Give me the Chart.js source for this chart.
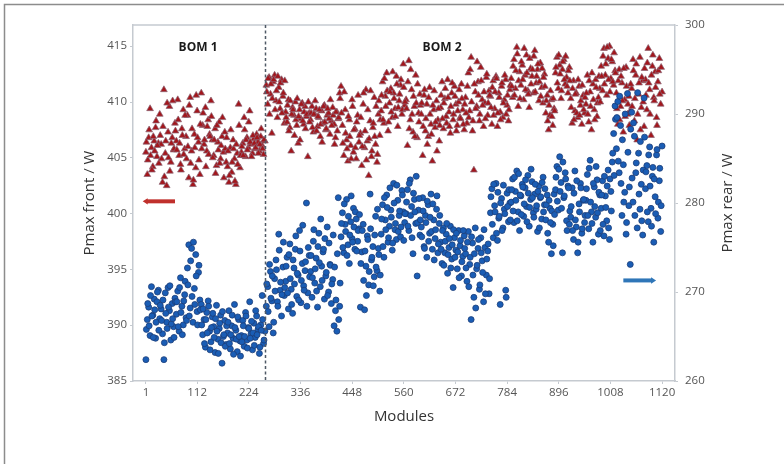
<!DOCTYPE html>
<html><head><meta charset="utf-8">
<script src="https://cdn.jsdelivr.net/npm/chart.js@4.4.1/dist/chart.umd.min.js"></script>
<style>html,body{margin:0;padding:0;background:#fff;} canvas{display:block;}</style>
</head><body>
<canvas id="c" width="784" height="464"></canvas>
<script>
// ---- data ----
const moduleStep = 3;          // each array holds every 3rd module
const bom1Start = 1;           // main arrays: modules 1,4,7,...
const bom1ExtraStart = 2;      // extra arrays: modules 2,5,8,...
const bom2Start = 262;
const bom2ExtraStart = 263;
const bomBoundary = 259.5;
const xTickLabels = [1, 112, 224, 336, 448, 560, 672, 784, 896, 1008, 1120];
const frontTicks = [385, 390, 395, 400, 405, 410, 415];
const rearTicks = [260, 270, 280, 290, 300];

const frontBom1 = [
405.5,403.5,406.8,409.4,405.9,404.2,406.5,407.7,405.1,406.3,408.9,
406.2,402.8,411.1,405.4,402.5,407.3,409.6,404.6,406.8,405.7,408.1,
406.5,410.2,405.2,404.4,407.6,409.3,405.8,406.9,
408.8,403.2,410.4,405.6,402.6,407.1,404.1,409.2,406.4,403.5,
410.8,407.9,406.2,409.5,405.6,408.4,407.1,410.1,406.6,
405.2,407.6,404.3,406.4,408.2,404.9,406.9,405.5,407.3,404.6,
404.2,402.8,405.9,403.7,406.6,404.9,402.6,405.4,409.8,404.1,
405.5,406.3,408.6,405.1,406.8,405.9,409.2,406.2,405.4,406.7,405.8,407.1,406.4,405.6,406.9,406.1,405.3,406.5
];
const frontBom1Extra = [
406.4,404.8,407.5,405.2,403.9,406.9,405.6,408.3,406.1,404.5,407.0,
404.9,407.8,403.3,406.5,409.9,405.0,403.8,406.3,410.1,405.8,407.4,
405.7,408.4,406.3,403.9,407.0,405.3,408.8,404.9,
406.0,409.7,404.5,407.6,403.0,405.9,410.6,406.8,404.8,408.0,
405.8,409.0,406.6,404.2,407.8,405.3,406.9,408.7,405.0,
406.6,403.6,407.9,405.7,404.5,406.1,408.6,403.2,405.8,406.8,
405.6,403.4,407.5,404.6,405.8,402.9,406.2,404.4,407.9,405.2,
406.0,405.2,407.5,406.6,405.7,408.2,406.4,405.1,407.0,406.3,405.9,406.8,405.4,406.2,407.6,405.8,406.6
];
const frontBom2 = [
411.5,409.8,412.2,410.7,407.2,411.8,412.4,410.1,408.6,411.3,409.4,412.0,410.5,408.1,
409.1,408.2,410.2,407.7,405.6,409.5,408.8,410.0,407.9,406.3,409.3,408.5,409.9,408.0,409.6,408.7,405.1,409.0,
408.4,409.6,407.3,408.9,409.4,407.8,408.6,406.9,409.2,408.1,409.7,407.5,408.8,409.0,407.1,408.3,409.5,408.0,406.8,409.1,408.5,410.8,
411.4,407.9,405.2,409.3,406.6,404.7,408.4,406.1,410.2,405.5,407.6,404.9,408.8,406.4,
407.2,404.3,409.8,405.9,411.1,406.5,403.4,408.3,405.1,407.7,410.4,406.2,404.6,408.9,407.0,
409.2,411.8,408.1,410.5,412.6,407.4,409.9,411.2,408.6,410.8,409.4,412.3,407.8,410.1,411.5,408.9,413.4,409.7,
410.2,406.1,413.7,408.4,411.1,407.3,409.6,412.4,406.8,409.0,410.7,
408.9,405.2,410.6,407.4,409.8,406.9,411.3,408.0,404.7,409.3,407.7,410.1,408.4,406.5,
409.5,411.8,407.6,410.3,408.7,412.0,409.1,407.2,410.8,408.4,411.4,409.8,407.9,410.0,408.6,411.6,409.3,407.5,
410.4,408.1,412.6,409.2,414.0,407.4,403.9,410.9,409.6,411.8,408.3,413.1,410.2,407.8,409.9,412.2,408.8,411.0,
410.5,408.0,411.9,409.4,412.3,407.8,410.8,409.1,411.4,408.6,410.2,412.0,409.7,408.3,411.1,
412.1,410.4,413.8,411.2,414.9,409.6,412.7,411.5,413.3,410.2,412.4,414.2,411.0,409.5,413.0,412.3,410.8,414.6,411.7,412.9,410.1,413.5,411.3,409.9,412.5,
409.0,410.6,407.5,408.8,410.2,407.9,409.4,
412.6,414.0,411.2,413.3,410.3,412.9,413.8,411.6,412.2,410.8,413.1,
410.3,408.1,411.9,409.2,410.8,408.6,411.4,409.7,408.0,410.6,409.0,
409.8,412.4,408.2,410.9,407.5,411.6,409.3,412.0,408.7,410.4,411.2,
413.2,411.0,414.8,412.4,410.6,413.9,415.0,412.1,413.6,411.5,412.8,
410.8,408.0,412.9,409.6,411.7,407.3,410.2,413.1,408.9,410.5,409.2,
411.2,413.8,408.3,412.4,406.6,410.7,414.0,409.5,411.9,407.8,
412.0,409.3,414.8,411.1,407.0,413.2,410.4,412.7,408.6,411.8,413.9,409.8,410.9
];
const frontBom2Extra = [
410.9,412.1,408.9,411.6,410.3,412.0,409.3,411.0,412.3,410.0,411.7,409.0,410.8,411.9,
408.6,409.7,407.4,410.1,408.9,409.3,407.0,408.4,410.3,408.7,406.6,409.8,408.3,409.1,407.6,408.9,410.0,408.2,
409.0,407.7,408.9,410.1,407.4,408.7,409.3,408.0,406.4,409.6,408.2,407.6,409.4,408.5,410.2,407.9,408.8,406.2,409.1,407.4,408.6,410.3,
409.0,406.3,410.9,407.2,405.8,408.7,406.9,404.9,409.6,407.5,405.9,408.2,410.6,407.0,
408.6,406.0,410.8,407.4,404.8,409.3,406.7,411.0,405.6,408.1,406.9,409.6,405.3,410.1,408.4,
410.6,408.4,412.1,409.6,411.0,408.2,410.9,409.1,412.7,410.3,408.7,411.6,409.5,410.7,412.0,409.3,411.3,410.0,
409.4,411.8,407.6,412.9,408.9,410.5,406.9,409.9,411.6,408.2,409.7,
409.9,407.8,411.1,408.5,406.2,410.4,408.9,407.1,409.7,411.0,408.2,405.6,409.4,407.9,
410.6,408.5,409.9,411.2,408.1,410.4,407.8,409.6,411.7,408.9,410.5,407.4,409.2,411.1,408.5,410.3,408.0,409.8,
409.0,411.4,408.6,412.9,410.0,408.3,411.6,409.4,413.6,410.6,408.9,411.9,409.7,410.9,408.5,412.5,409.9,410.6,
409.5,411.3,408.8,410.9,412.1,409.0,410.4,408.4,411.7,409.9,412.4,408.9,410.6,409.3,411.5,
411.4,413.2,410.6,412.8,414.3,411.9,410.3,413.6,412.0,414.8,411.1,412.6,410.7,413.9,411.6,412.9,414.1,410.9,412.3,413.4,411.8,410.5,413.0,412.2,411.4,
410.1,408.3,409.7,411.0,408.7,410.3,409.2,
413.1,411.7,414.2,412.5,411.0,413.6,412.0,414.1,411.4,412.8,411.9,
409.5,411.2,408.4,410.7,409.0,412.0,408.8,410.1,411.5,409.3,410.4,
410.8,408.9,411.9,409.6,412.6,410.2,408.4,411.3,409.9,412.3,410.0,
412.3,414.1,411.6,413.4,414.9,412.0,410.9,413.8,411.8,414.4,412.6,
409.4,411.9,408.4,412.3,410.1,413.0,408.7,411.4,409.8,407.9,411.6,
409.6,412.8,410.3,413.4,408.9,411.7,407.5,412.2,410.0,413.0,
410.6,413.5,411.7,408.9,412.4,414.2,410.1,411.3,407.9,412.8,410.7,413.1
];
const rearBom1 = [
262.4,266.9,268.3,265.1,270.6,267.4,269.2,264.8,268.9,270.2,267.0,
268.1,265.3,262.4,269.9,266.6,270.5,267.9,264.6,268.7,266.1,269.3,
267.5,270.1,265.6,271.6,268.4,266.3,269.7,267.1,
272.7,275.3,268.2,274.9,266.6,270.4,274.2,267.8,272.2,269.1,
268.6,265.2,266.9,263.8,267.7,269.0,265.6,264.4,267.2,
266.1,263.2,268.5,264.7,265.9,267.4,262.0,265.0,266.8,264.1,
265.4,267.9,263.6,266.2,264.8,268.6,265.7,263.3,266.9,264.5,
265.1,266.8,263.9,267.7,264.6,266.0,268.9,265.3,263.5,266.5,264.9,267.3,265.8,263.1,266.3,269.6,264.2,265.6
];
const rearBom1Extra = [
265.8,268.7,266.2,269.6,267.3,264.9,268.0,266.6,270.0,265.7,268.5,
266.8,269.1,264.3,267.6,265.9,268.3,270.7,266.4,267.0,264.9,268.9,
268.9,266.1,270.5,267.7,265.2,269.0,271.2,266.8,
270.8,267.3,273.5,269.5,275.6,268.6,271.8,266.3,273.0,268.0,
266.3,268.1,264.2,266.9,265.4,268.4,263.5,266.0,267.6,
264.9,267.0,265.6,263.1,266.5,264.3,267.8,265.2,263.9,266.2,
266.6,264.2,265.2,267.4,263.0,266.0,264.7,267.2,265.0,262.8,
264.4,266.2,265.0,267.3,263.7,265.9,264.8,266.7,265.4,264.0,267.9,265.2,266.1,263.8,265.7,266.9,264.6
];
const rearBom2 = [
268.4,270.6,266.1,272.3,269.0,265.4,271.5,273.6,268.9,276.5,270.2,267.3,272.8,269.6,
271.2,273.9,268.1,275.4,270.3,267.6,272.7,274.8,269.5,271.9,276.9,268.8,273.2,270.7,272.4,280.0,269.9,274.1,
272.3,269.4,275.7,271.0,273.8,268.3,276.6,270.6,272.9,274.5,269.2,271.8,277.3,270.0,273.1,268.7,271.4,266.2,267.9,265.6,280.6,268.4,
276.2,278.9,274.4,277.6,280.4,275.3,273.2,277.9,276.0,279.4,274.8,278.2,275.7,277.1,
268.3,274.5,277.6,268.0,272.9,276.3,270.8,281.0,273.6,275.1,271.7,278.5,272.4,274.9,270.1,
276.5,279.8,273.9,278.1,280.9,275.6,277.4,279.2,274.7,282.2,277.0,275.9,280.3,278.6,276.2,281.4,279.0,277.8,
278.8,281.5,276.9,282.6,279.6,274.3,280.4,277.7,271.8,279.2,276.4,
277.3,280.6,275.1,278.6,273.9,279.8,276.6,281.0,274.8,278.1,276.0,279.3,274.4,277.7,
275.6,273.2,277.2,274.4,276.5,272.1,275.0,277.4,273.7,270.5,276.1,274.7,272.6,276.9,275.2,271.8,274.0,276.3,
274.3,271.2,276.8,273.1,266.9,275.5,269.4,277.2,272.6,274.9,270.3,276.1,273.5,268.9,275.0,271.9,274.6,269.8,
278.9,281.6,276.1,279.7,282.2,275.8,278.3,268.6,280.5,277.2,279.3,270.2,281.1,277.9,280.0,
280.1,282.7,277.8,281.3,283.6,279.0,276.9,280.8,282.1,278.5,281.7,279.6,283.1,277.4,280.4,282.4,278.9,281.0,279.3,276.8,281.9,280.6,278.2,282.9,279.8,
278.1,280.9,275.6,279.4,274.3,277.6,281.0,
281.5,284.1,279.2,285.2,282.3,274.4,280.6,283.4,278.0,281.9,277.6,
278.4,281.7,275.9,283.6,277.3,274.4,279.9,282.2,276.6,280.3,277.8,
280.3,283.2,277.1,284.8,279.0,275.6,281.8,278.4,282.6,276.5,280.9,
279.4,282.5,276.3,280.8,278.0,283.7,275.9,281.3,284.6,287.8,290.9,
286.1,291.4,283.4,288.7,278.6,284.3,281.2,276.5,292.3,279.7,273.1,
290.2,280.1,287.5,283.4,277.2,285.6,279.3,282.1,276.4,291.8,
281.6,284.2,277.9,286.3,279.4,283.0,275.6,280.7,285.4,278.3,282.5,276.8,286.4
];
const rearBom2Extra = [
270.9,267.8,273.1,269.3,271.8,266.6,270.1,272.5,268.4,274.7,271.1,269.7,275.6,270.5,
272.9,269.9,274.2,271.5,268.6,273.6,270.9,276.3,272.1,269.1,274.6,271.3,277.5,270.2,273.4,268.4,275.0,271.7,
274.1,271.6,277.0,272.6,270.1,275.1,273.3,278.2,271.3,274.8,276.0,272.2,269.6,275.5,273.0,270.9,276.4,272.8,269.1,274.3,266.9,271.0,
277.7,275.0,279.9,276.8,274.1,278.5,276.4,280.8,275.6,277.3,279.0,274.6,276.9,278.7,
273.2,276.9,271.3,274.6,269.6,275.9,272.3,277.1,273.9,270.7,276.4,272.8,279.3,274.2,271.9,
278.2,275.1,280.6,277.0,279.5,276.1,281.7,278.4,275.5,280.0,277.7,282.0,276.8,279.1,277.3,280.9,275.8,278.8,
280.1,277.4,282.2,278.6,276.1,281.1,279.0,283.0,277.8,280.5,278.1,
276.2,279.1,274.9,277.8,280.2,275.7,278.4,276.8,279.9,273.6,277.0,280.8,275.4,278.6,
274.8,276.9,273.0,275.7,277.7,274.2,276.0,272.7,275.3,277.0,273.9,276.6,274.5,271.6,275.8,273.4,276.9,274.9,
272.7,275.6,270.6,273.9,276.2,271.9,274.3,268.2,273.0,275.9,270.8,274.4,272.2,277.0,269.8,273.7,275.4,271.5,
280.7,277.6,282.1,279.0,276.6,281.2,278.5,280.0,276.9,282.0,278.8,269.4,279.6,281.5,278.1,
281.5,279.1,282.9,280.3,278.0,283.3,280.9,278.7,281.8,279.9,282.6,277.9,281.1,279.5,283.8,280.6,278.4,282.1,279.7,281.3,277.2,280.7,282.3,279.0,281.6,
279.8,276.6,280.3,277.8,279.1,275.2,278.7,
282.9,280.2,283.8,281.3,279.4,284.6,280.8,282.7,276.9,281.7,279.1,
279.6,276.9,281.1,278.1,282.5,275.6,279.0,281.7,277.1,280.4,278.6,
281.6,278.6,283.9,280.1,277.7,282.2,279.6,284.1,278.9,281.2,276.9,
280.9,277.6,283.0,279.5,281.9,277.2,282.7,279.1,285.6,283.1,289.4,
289.6,284.7,292.0,282.2,287.1,280.1,290.0,277.8,285.7,281.8,288.3,
282.8,289.0,278.6,284.5,292.4,281.0,286.9,278.0,283.7,287.4,
283.5,279.0,285.4,281.9,277.4,284.0,282.7,278.8,286.0,280.1,283.9,279.7
];
// direction markers (module range, value on own axis)
const frontMarker = {from: -6, to: 64, value: 401.1};
const rearMarker = {from: 1036, to: 1107, value: 271.3};
const bomLabels = [{text: 'BOM 1', module: 114}, {text: 'BOM 2', module: 643}];

// ---- build ----
function toPoints(values, start) {
  return values.map((v, i) => ({x: start + i * moduleStep, y: v}));
}
const frontPoints = [].concat(
  toPoints(frontBom1, bom1Start), toPoints(frontBom1Extra, bom1ExtraStart),
  toPoints(frontBom2, bom2Start), toPoints(frontBom2Extra, bom2ExtraStart));
const rearPoints = [].concat(
  toPoints(rearBom1, bom1Start), toPoints(rearBom1Extra, bom1ExtraStart),
  toPoints(rearBom2, bom2Start), toPoints(rearBom2Extra, bom2ExtraStart));

const FONT = "'Open Sans', 'Noto Sans', sans-serif";
const axisLine = '#c5cad0';

function arrow(ctx, x1, x2, y, color, headRight) {
  ctx.save();
  ctx.strokeStyle = color; ctx.fillStyle = color;
  ctx.lineWidth = 4; ctx.lineCap = 'butt';
  const hx = headRight ? x2 : x1;
  const dir = headRight ? 1 : -1;
  ctx.beginPath();
  ctx.moveTo(x1 + (headRight ? 0 : 4), y);
  ctx.lineTo(x2 - (headRight ? 4 : 0), y);
  ctx.stroke();
  ctx.beginPath();
  ctx.moveTo(hx, y);
  ctx.lineTo(hx - dir * 5, y - 3.2);
  ctx.lineTo(hx - dir * 5, y + 3.2);
  ctx.closePath(); ctx.fill();
  ctx.restore();
}

const decor = {
  id: 'decor',
  beforeDraw(chart) {
    const ctx = chart.ctx;
    ctx.save();
    ctx.fillStyle = '#fff';
    ctx.fillRect(0, 0, chart.width, chart.height);
    ctx.strokeStyle = '#8c8c8c';
    ctx.lineWidth = 1.5;
    ctx.beginPath();
    ctx.moveTo(4.5, chart.height + 2);
    ctx.lineTo(4.5, 4.5);
    ctx.lineTo(chart.width + 2, 4.5);
    ctx.stroke();
    ctx.restore();
  },
  afterDatasetsDraw(chart) {
    const ctx = chart.ctx;
    const {top, bottom, left, right} = chart.chartArea;
    const xs = chart.scales.x, yf = chart.scales.y, yr = chart.scales.y1;
    ctx.save();
    ctx.strokeStyle = axisLine; ctx.lineWidth = 1.5;
    ctx.beginPath(); ctx.moveTo(left, top); ctx.lineTo(right, top); ctx.stroke();
    const bx = Math.round(xs.getPixelForValue(bomBoundary)) + 0.5;
    ctx.strokeStyle = '#4f5a66'; ctx.lineWidth = 1.5; ctx.setLineDash([3, 2.5]);
    ctx.beginPath(); ctx.moveTo(bx, top); ctx.lineTo(bx, bottom); ctx.stroke();
    ctx.setLineDash([]);
    ctx.fillStyle = '#1a1a1a';
    ctx.font = "bold 12px " + FONT;
    ctx.textAlign = 'center'; ctx.textBaseline = 'middle';
    bomLabels.forEach(l => ctx.fillText(l.text, xs.getPixelForValue(l.module), top + 22.5));
    arrow(ctx, xs.getPixelForValue(frontMarker.from), xs.getPixelForValue(frontMarker.to),
          yf.getPixelForValue(frontMarker.value), '#c0302c', false);
    arrow(ctx, xs.getPixelForValue(rearMarker.from), xs.getPixelForValue(rearMarker.to),
          yr.getPixelForValue(rearMarker.value), '#2f76b8', true);
    ctx.translate(728, (top + bottom) / 2);
    ctx.rotate(-Math.PI / 2);
    ctx.fillStyle = '#333';
    ctx.font = "15px " + FONT;
    ctx.fillText('Pmax rear / W', 0, 0);
    ctx.restore();
  }
};

const tickFont = {family: FONT, size: 11.5};
const plain = v => String(v);
new Chart(document.getElementById('c'), {
  type: 'scatter',
  data: {
    datasets: [
      {
        label: 'Pmax rear', data: rearPoints, yAxisID: 'y1',
        pointStyle: 'circle', pointRadius: 3, pointHoverRadius: 3,
        backgroundColor: '#1a5db5', borderColor: '#1c3d78', borderWidth: 0.8
      },
      {
        label: 'Pmax front', data: frontPoints, yAxisID: 'y',
        pointStyle: 'triangle', pointRadius: 3.9, pointHoverRadius: 3.9,
        backgroundColor: '#a3161c', borderColor: 'rgba(140,100,115,0.9)', borderWidth: 0.8
      }
    ]
  },
  options: {
    responsive: false, animation: false, devicePixelRatio: 1,
    layout: {padding: {top: 25, left: 0, right: 0, bottom: 0}},
    plugins: {legend: {display: false}, tooltip: {enabled: false}},
    events: [],
    scales: {
      x: {
        type: 'linear', position: 'bottom', min: -27, max: 1148,
        afterBuildTicks: s => { s.ticks = xTickLabels.map(v => ({value: v})); },
        afterFit: s => { s.height = 83; },
        ticks: {font: tickFont, color: '#555', padding: 2, autoSkip: false, maxRotation: 0, callback: plain},
        grid: {display: true, drawOnChartArea: false, tickLength: 3, color: axisLine},
        border: {display: true, color: axisLine, width: 1.5},
        title: {display: true, text: 'Modules', color: '#333', font: {family: FONT, size: 15}, padding: {top: 0, bottom: 38}}
      },
      y: {
        type: 'linear', position: 'left', min: 385, max: 416.9,
        afterBuildTicks: s => { s.ticks = frontTicks.map(v => ({value: v})); },
        afterFit: s => { s.width = 133; },
        ticks: {font: tickFont, color: '#555', padding: 3, callback: plain},
        grid: {display: true, drawOnChartArea: false, tickLength: 3, color: axisLine},
        border: {display: true, color: axisLine, width: 1.5},
        title: {display: true, text: 'Pmax front / W', color: '#333', font: {family: FONT, size: 15}, padding: {top: 81, bottom: 0}}
      },
      y1: {
        type: 'linear', position: 'right', min: 260, max: 300,
        afterBuildTicks: s => { s.ticks = rearTicks.map(v => ({value: v})); },
        afterFit: s => { s.width = 109; },
        ticks: {font: tickFont, color: '#555', padding: 7, callback: plain},
        grid: {display: true, drawOnChartArea: false, tickLength: 3, color: axisLine},
        border: {display: true, color: axisLine, width: 1.5},
        title: {display: false}
      }
    }
  },
  plugins: [decor]
});
</script>
</body></html>
